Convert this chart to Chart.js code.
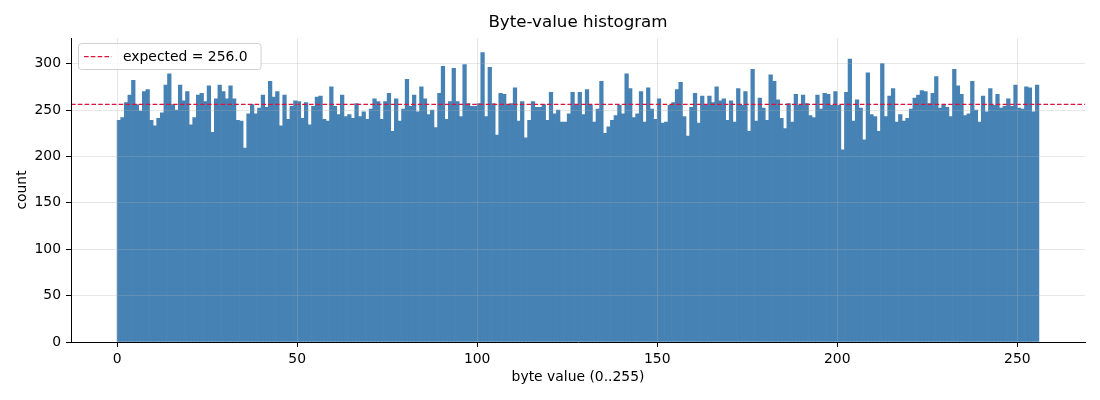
<!DOCTYPE html>
<html>
<head>
<meta charset="utf-8">
<script src="https://cdn.jsdelivr.net/npm/chart.js@4.4.1/dist/chart.umd.min.js"></script>
<style>html,body{margin:0;padding:0;background:#fff;}canvas{display:block;}</style>
</head>
<body>
<canvas id="c" width="1100" height="400"></canvas>
<script>
// ---- data ----
const counts = [
  239,242,258,266,282,256,249,270,272,239,233,241,247,277,289,256,
  250,277,260,270,234,242,266,268,259,276,226,262,277,270,262,276,
  262,239,238,209,246,256,246,252,266,253,281,264,270,233,266,240,
  254,260,259,241,258,234,254,264,265,240,238,275,254,245,266,243,
  245,241,257,243,248,240,251,262,259,240,259,268,227,262,238,251,
  283,254,266,248,275,262,245,250,231,268,297,240,259,295,259,243,
  299,257,254,254,257,312,243,296,257,223,268,267,255,257,274,238,
  259,220,239,259,253,253,256,239,269,246,250,237,237,246,269,255,
  269,245,272,255,237,251,281,225,232,239,244,255,246,289,273,242,
  246,270,237,274,251,240,262,236,237,255,258,272,280,243,222,253,
  268,236,265,255,265,258,275,260,262,239,260,237,273,255,270,227,
  294,238,263,252,239,288,281,261,241,230,257,237,267,255,266,257,
  244,242,266,251,268,267,255,270,255,207,269,305,238,261,252,218,
  290,245,243,227,300,243,265,273,237,245,238,241,251,263,266,271,
  270,257,268,286,252,255,253,243,294,276,267,244,246,281,250,237,
  265,248,273,255,267,252,254,262,254,277,252,251,275,274,248,277
];
const expectedCount = 256.0;
const legendLabel = 'expected = 256.0';
const xTicks = [0, 50, 100, 150, 200, 250];
const yTicks = [0, 50, 100, 150, 200, 250, 300];
const xRange = [-12.8, 268.8];
const yRange = [0, 327.6];
const titleText = 'Byte-value histogram';
const xLabel = 'byte value (0..255)';
const yLabel = 'count';

// ---- chart ----
const FONT = "'DejaVu Sans', 'Liberation Sans', sans-serif";
Chart.defaults.font.family = FONT;
Chart.defaults.color = '#000';

const barPoints = counts.map((v, i) => ({ x: i + 0.5, y: v }));
const linePoints = [{ x: xRange[0], y: expectedCount }, { x: xRange[1], y: expectedCount }];

const insideLegend = {
  id: 'insideLegend',
  afterDraw(chart) {
    const { ctx, chartArea: a } = chart;
    const ds = chart.data.datasets[1];
    ctx.save();
    ctx.font = '13.9px ' + FONT;
    const tw = ctx.measureText(ds.label).width;
    const x0 = a.left + 7.5, y0 = a.top + 5.5, h = 26, w = 51 + tw + 7;
    ctx.beginPath();
    ctx.roundRect(x0, y0, w, h, 3);
    ctx.fillStyle = 'rgba(255,255,255,0.8)';
    ctx.fill();
    ctx.strokeStyle = '#d0d0d0';
    ctx.lineWidth = 1;
    ctx.stroke();
    ctx.beginPath();
    ctx.setLineDash([4.6, 2.2]);
    ctx.moveTo(x0 + 5.5, y0 + h / 2);
    ctx.lineTo(x0 + 33, y0 + h / 2);
    ctx.strokeStyle = ds.borderColor;
    ctx.lineWidth = ds.borderWidth;
    ctx.stroke();
    ctx.setLineDash([]);
    ctx.fillStyle = '#000';
    ctx.textBaseline = 'middle';
    ctx.textAlign = 'left';
    ctx.fillText(ds.label, x0 + 44.5, y0 + h / 2 + 0.5);
    ctx.restore();
  }
};

new Chart(document.getElementById('c'), {
  type: 'bar',
  data: {
    datasets: [
      {
        type: 'bar',
        label: 'counts',
        data: barPoints,
        backgroundColor: '#4682B4',
        borderWidth: 0,
        barPercentage: 1.0,
        categoryPercentage: 1.0,
        order: 1
      },
      {
        type: 'line',
        label: legendLabel,
        data: linePoints,
        borderColor: '#DC143C',
        borderWidth: 1.3,
        borderDash: [4.6, 2.2],
        pointRadius: 0,
        fill: false,
        order: 0
      }
    ]
  },
  options: {
    responsive: false,
    animation: false,
    devicePixelRatio: 1,
    layout: { padding: { left: 0, right: 15, top: 0, bottom: 0 } },
    plugins: {
      legend: { display: false },
      tooltip: { enabled: false },
      title: {
        display: true,
        text: titleText,
        fullSize: false,
        color: '#000',
        font: { size: 16.7, weight: 'normal', family: FONT },
        padding: { top: 13, bottom: 5 }
      }
    },
    scales: {
      x: {
        type: 'linear',
        min: xRange[0],
        max: xRange[1],
        offset: false,
        afterBuildTicks: (s) => { s.ticks = xTicks.map(v => ({ value: v })); },
        afterFit: (s) => { s.height = 58; },
        grid: { offset: false, color: 'rgba(176,176,176,0.3)', lineWidth: 1, tickLength: 5, tickColor: '#000', tickWidth: 1, z: 1 },
        border: { display: true, color: '#000', width: 1, z: 2 },
        ticks: { color: '#000', font: { size: 13.9 }, padding: 4, maxRotation: 0, autoSkip: false },
        title: { display: true, text: xLabel, color: '#000', font: { size: 13.9 }, padding: { top: 0, bottom: 14.7 } }
      },
      y: {
        type: 'linear',
        min: yRange[0],
        max: yRange[1],
        afterBuildTicks: (s) => { s.ticks = yTicks.map(v => ({ value: v })); },
        afterFit: (s) => { s.width = 71; },
        grid: { color: 'rgba(176,176,176,0.3)', lineWidth: 1, tickLength: 5, tickColor: '#000', tickWidth: 1, z: 1 },
        border: { display: true, color: '#000', width: 1, z: 2 },
        ticks: { color: '#000', font: { size: 13.9 }, padding: 5 },
        title: { display: true, text: yLabel, color: '#000', font: { size: 13.9 }, padding: { top: 13.7, bottom: 0 } }
      }
    }
  },
  plugins: [insideLegend]
});
</script>
</body>
</html>
